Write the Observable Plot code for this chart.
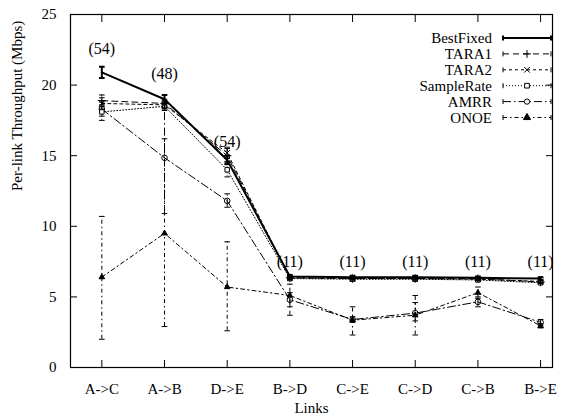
<!DOCTYPE html>
<html>
<head>
<meta charset="utf-8">
<script src="https://cdn.jsdelivr.net/npm/d3@7"></script>
<script src="https://cdn.jsdelivr.net/npm/@observablehq/plot@0.6"></script>
<style>
  html, body { margin: 0; padding: 0; background: #fff; }
  #chart { width: 563px; height: 419px; }
  svg text { font-family: "Liberation Serif", "DejaVu Serif", serif; }
</style>
</head>
<body>
<div id="chart"></div>
<script>
const links = ["A->C", "A->B", "D->E", "B->D", "C->E", "C->D", "C->B", "B->E"];
const counts = ["(54)", "(48)", "(54)", "(11)", "(11)", "(11)", "(11)", "(11)"];
const countAt = [22.6, 20.8, 16.0, 7.45, 7.45, 7.45, 7.45, 7.45];

const seriesNames = ["BestFixed", "TARA1", "TARA2", "SampleRate", "AMRR", "ONOE"];

const bestFixed   = [20.9, 19.0, 14.7, 6.45, 6.4, 6.4, 6.35, 6.3];
const bestFixedLo = [20.5, 18.7, 14.4, 6.35, 6.3, 6.3, 6.25, 6.2];
const bestFixedHi = [21.3, 19.3, 15.0, 6.55, 6.5, 6.5, 6.45, 6.4];

const tara1   = [18.9, 18.7, 15.0, 6.35, 6.3, 6.3, 6.3, 6.05];
const tara1Lo = [18.5, 18.4, 14.6, 6.25, 6.2, 6.2, 6.2, 5.95];
const tara1Hi = [19.3, 19.0, 15.5, 6.45, 6.4, 6.4, 6.4, 6.15];

const tara2   = [18.7, 18.6, 15.2, 6.35, 6.3, 6.3, 6.25, 6.1];
const tara2Lo = [18.3, 18.3, 14.8, 6.25, 6.2, 6.2, 6.15, 6.0];
const tara2Hi = [19.1, 18.9, 15.6, 6.45, 6.4, 6.4, 6.35, 6.2];

const sampleRate   = [18.1, 18.5, 14.0, 6.3, 6.25, 6.25, 6.2, 6.0];
const sampleRateLo = [17.5, 18.2, 13.5, 6.2, 6.15, 6.15, 6.1, 5.9];
const sampleRateHi = [18.6, 18.8, 14.5, 6.4, 6.35, 6.35, 6.3, 6.1];

const amrr   = [18.3, 14.85, 11.8, 4.8, 3.4, 3.85, 4.65, 3.2];
const amrrLo = [17.8, 10.9, 11.35, 4.3, 3.2, 3.3, 4.3, 3.0];
const amrrHi = [18.8, 18.8, 12.3, 5.3, 3.6, 4.6, 5.0, 3.4];

const onoe   = [6.4, 9.5, 5.7, 5.1, 3.35, 3.7, 5.3, 2.95];
const onoeLo = [2.0, 2.9, 2.6, 3.7, 2.3, 2.3, 4.9, 2.8];
const onoeHi = [10.7, 16.2, 8.9, 5.9, 4.3, 5.1, 5.7, 3.1];

const yTicks = [0, 5, 10, 15, 20, 25];

const styles = {
  BestFixed:  {dash: null,        width: 2,   symbol: null,       fill: "none",  r: 0},
  TARA1:      {dash: "6,4",       width: 1,   symbol: "plus",     fill: "none",  r: 2.8},
  TARA2:      {dash: "3,3",       width: 1,   symbol: "times",    fill: "none",  r: 2.6},
  SampleRate: {dash: "1,2",       width: 1,   symbol: "square",   fill: "white", r: 2.5},
  AMRR:       {dash: "8,3,1.5,3", width: 1,   symbol: "circle",   fill: "none",  r: 2.8},
  ONOE:       {dash: "4,3,1.5,3", width: 1,   symbol: "triangle", fill: "black", r: 2.1}
};

const raw = {
  BestFixed: [bestFixed, bestFixedLo, bestFixedHi],
  TARA1: [tara1, tara1Lo, tara1Hi],
  TARA2: [tara2, tara2Lo, tara2Hi],
  SampleRate: [sampleRate, sampleRateLo, sampleRateHi],
  AMRR: [amrr, amrrLo, amrrHi],
  ONOE: [onoe, onoeLo, onoeHi]
};

const data = {};
for (const s of seriesNames) {
  const [v, lo, hi] = raw[s];
  data[s] = links.map((l, i) => ({i, link: l, v: v[i], lo: lo[i], hi: hi[i]}));
}
const labelRows = links.map((l, i) => ({i, text: counts[i], y: countAt[i]}));

const marks = [];
const capHalf = 0.045;
for (const s of seriesNames.slice().reverse()) {
  const st = styles[s];
  const d = data[s];
  marks.push(Plot.line(d, {x: "i", y: "v", stroke: "black", strokeWidth: st.width, strokeDasharray: st.dash}));
  marks.push(Plot.ruleX(d, {x: "i", y1: "lo", y2: "hi", stroke: "black", strokeWidth: st.width, strokeDasharray: st.dash}));
  marks.push(Plot.link(d, {x1: r => r.i - capHalf, x2: r => r.i + capHalf, y1: "lo", y2: "lo", stroke: "black", strokeWidth: st.width}));
  marks.push(Plot.link(d, {x1: r => r.i - capHalf, x2: r => r.i + capHalf, y1: "hi", y2: "hi", stroke: "black", strokeWidth: st.width}));
  if (st.symbol) {
    marks.push(Plot.dot(d, {x: "i", y: "v", symbol: st.symbol, r: st.r, stroke: "black", strokeWidth: 1, fill: st.fill}));
  }
}

const chart = Plot.plot({
  width: 563,
  height: 419,
  marginLeft: 70,
  marginRight: 11,
  marginTop: 14,
  marginBottom: 52,
  style: {fontFamily: "'Liberation Serif', 'DejaVu Serif', serif", fontSize: "15px", background: "white", color: "black"},
  x: {type: "linear", domain: [-0.5, 7.19]},
  y: {domain: [0, 25]},
  marks: [
    Plot.frame({stroke: "black", strokeWidth: 1.2}),
    Plot.axisY(yTicks, {anchor: "left", tickSize: -7, tickPadding: 21, fontSize: 15, label: null}),
    Plot.axisY(yTicks, {anchor: "right", tickSize: -7, text: null, label: null}),
    Plot.axisX(d3.range(links.length), {anchor: "bottom", tickSize: -7, tickPadding: 23, tickFormat: i => links[i], fontSize: 15, label: null}),
    Plot.axisX(d3.range(links.length), {anchor: "top", tickSize: -7, text: null, label: null}),
    Plot.text(["Per-link Throughput (Mbps)"], {frameAnchor: "left", rotate: -90, dx: -53, fontSize: 15}),
    Plot.text(["Links"], {frameAnchor: "bottom", dy: 45, fontSize: 15}),
    ...marks,
    Plot.text(labelRows, {x: "i", y: "y", text: "text", fontSize: 16})
  ]
});

document.getElementById("chart").appendChild(chart);

// Legend (key) inside the top-right corner
const svg = d3.select(chart);
const lg = svg.append("g");
seriesNames.forEach((s, k) => {
  const st = styles[s];
  const y = 38 + k * 15.9;
  lg.append("text").attr("x", 492).attr("y", y).attr("dy", "0.35em")
    .attr("text-anchor", "end").attr("font-size", 15).attr("fill", "black").text(s);
  lg.append("line").attr("x1", 503).attr("x2", 551).attr("y1", y).attr("y2", y)
    .attr("stroke", "black").attr("stroke-width", st.width)
    .attr("stroke-dasharray", st.dash);
  [503, 551].forEach(x => lg.append("line").attr("x1", x).attr("x2", x).attr("y1", y - 2.5).attr("y2", y + 2.5)
    .attr("stroke", "black").attr("stroke-width", st.width));
  if (st.symbol) {
    const sym = d3.symbol({plus: d3.symbolPlus, times: d3.symbolTimes, square: d3.symbolSquare, circle: d3.symbolCircle, triangle: d3.symbolTriangle}[st.symbol], 22)();
    lg.append("path").attr("d", sym).attr("transform", `translate(527,${y})`)
      .attr("fill", st.fill === "black" ? "black" : "white").attr("stroke", "black").attr("stroke-width", 1);
  }
});
</script>
</body>
</html>
